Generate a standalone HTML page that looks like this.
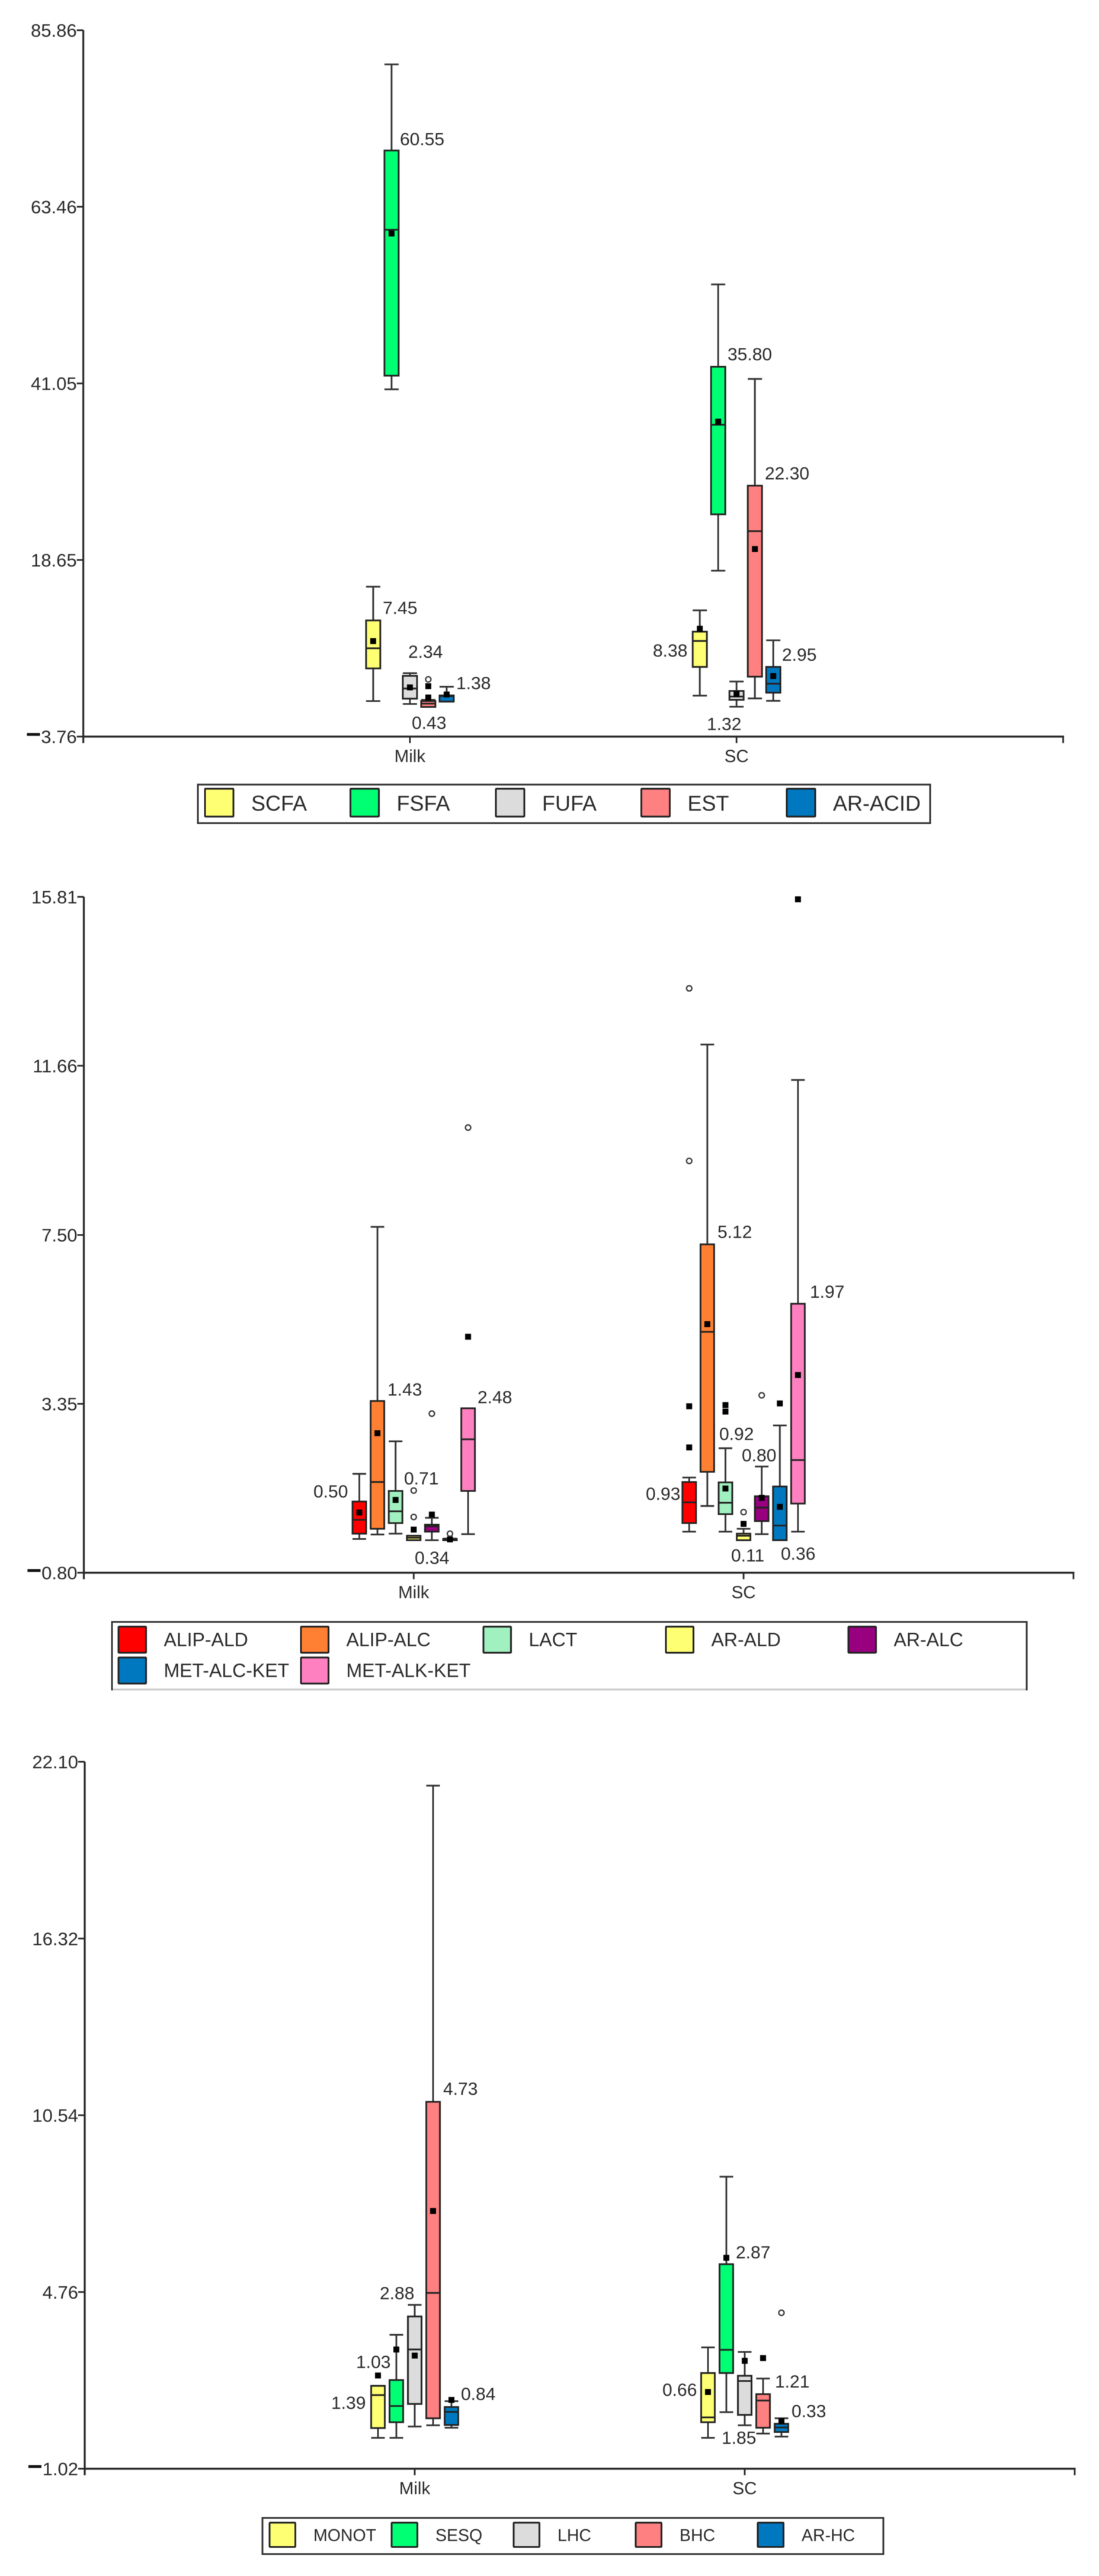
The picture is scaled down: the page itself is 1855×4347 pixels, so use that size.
<!DOCTYPE html>
<html lang="en">
<head>
<meta charset="utf-8">
<title>Box plots of volatile compound classes in Milk and SC</title>
<style>
html,body{margin:0;padding:0;background:#fff;}
svg{display:block;filter:blur(0.6px);}
text{font-family:"Liberation Sans",sans-serif;fill:#2a2a2a;}
.val{font-size:30px;}
</style>
</head>
<body>
<svg id="figure" xmlns="http://www.w3.org/2000/svg" width="1855" height="4347" viewBox="0 0 1855 4347">
<rect x="0" y="0" width="1855" height="4347" fill="#ffffff"/>
<g id="chart1"></g>
<g id="chart2"></g>
<g id="chart3"></g>
<g class="val">
<text x="675" y="245">60.55</text>
<text x="646" y="1036">7.45</text>
<text x="689" y="1110">2.34</text>
<text x="770" y="1163">1.38</text>
<text x="695" y="1230">0.43</text>
<text x="1102" y="1108">8.38</text>
<text x="1320" y="1115">2.95</text>
<text x="1193" y="1232">1.32</text>
<text x="1228" y="608">35.80</text>
<text x="1291" y="809">22.30</text>
</g>
<g class="val">
<text x="529" y="2527">0.50</text>
<text x="654" y="2355">1.43</text>
<text x="682" y="2505">0.71</text>
<text x="700" y="2639">0.34</text>
<text x="806" y="2368">2.48</text>
<text x="1090" y="2531">0.93</text>
<text x="1211" y="2089">5.12</text>
<text x="1214" y="2430">0.92</text>
<text x="1252" y="2466">0.80</text>
<text x="1234" y="2635">0.11</text>
<text x="1318" y="2632">0.36</text>
<text x="1367" y="2190">1.97</text>
</g>
<g class="val">
<text x="748" y="3535">4.73</text>
<text x="641" y="3880">2.88</text>
<text x="601" y="3996">1.03</text>
<text x="559" y="4065">1.39</text>
<text x="778" y="4050">0.84</text>
<text x="1242" y="3811">2.87</text>
<text x="1118" y="4043">0.66</text>
<text x="1308" y="4029">1.21</text>
<text x="1336" y="4079">0.33</text>
<text x="1218" y="4124">1.85</text>
</g>
</svg>
<script>
// ---------- Chart 1 data ----------
const chart1Categories = ['Milk', 'SC'];
const chart1Series = ['SCFA', 'FSFA', 'FUFA', 'EST', 'AR-ACID'];
const chart1TickLabels = [85.86, 63.46, 41.05, 18.65, -3.76];
const chart1WhiskerHigh = [[15.26, 81.52, 4.29, 0.90, 2.56], [12.26, 53.61, 3.23, 41.62, 8.45]];
const chart1Q3 = [[10.98, 70.60, 3.95, 0.75, 1.46], [9.55, 43.16, 2.03, 28.08, 5.08]];
const chart1Median = [[7.45, 60.55, 2.34, 0.43, 1.38], [8.38, 35.80, 1.32, 22.30, 2.95]];
const chart1Q1 = [[4.89, 42.03, 1.05, 0.00, 0.68], [5.08, 24.44, 0.90, 3.84, 1.81]];
const chart1WhiskerLow = [[0.75, 40.30, 0.38, 0.00, 0.68], [1.43, 17.29, 0.03, 1.08, 0.78]];
const chart1Mean = [[8.35, 60.07, 2.48, 2.63, 1.58], [9.93, 36.20, 1.65, 20.04, 3.91]];
const chart1OpenOutliers = [[[], [], [], [3.50], []], [[], [], [], [], []]];
const chart1FilledOutliers = [[[], [], [], [1.20], []], [[], [], [], [], []]];

// ---------- Chart 2 data ----------
const chart2Categories = ['Milk', 'SC'];
const chart2Series = ['ALIP-ALD', 'ALIP-ALC', 'LACT', 'AR-ALD', 'AR-ALC', 'MET-ALC-KET', 'MET-ALK-KET'];
const chart2TickLabels = [15.81, 11.66, 7.50, 3.35, -0.80];
const chart2WhiskerHigh = [[1.63, 7.70, 2.43, 0.11, 0.55, 0.04, 3.24], [1.54, 12.18, 2.26, 0.28, 1.81, 2.82, 11.31]];
const chart2Q3 = [[0.95, 3.42, 1.21, 0.11, 0.38, 0.03, 3.24], [1.43, 7.27, 1.42, 0.16, 1.08, 1.32, 5.81]];
const chart2Median = [[0.50, 1.43, 0.71, 0.06, 0.34, 0.02, 2.48], [0.93, 5.12, 0.92, 0.11, 0.80, 0.36, 1.97]];
const chart2Q1 = [[0.16, 0.28, 0.42, 0.00, 0.21, 0.00, 1.21], [0.42, 1.68, 0.64, 0.00, 0.47, 0.00, 0.90]];
const chart2WhiskerLow = [[0.03, 0.14, 0.16, 0.00, 0.00, 0.00, 0.15], [0.21, 0.84, 0.21, 0.00, 0.15, 0.00, 0.21]];
const chart2Mean = [[0.68, 2.63, 0.99, 0.26, 0.63, 0.02, 5.00], [2.28, 5.31, 1.27, 0.40, 1.04, 0.82, 4.06]];
const chart2OpenOutliers = [[[], [], [], [1.22, 0.57], [3.11], [0.16], [10.14]], [[13.56, 9.32], [], [], [0.69], [3.56], [], []]];
const chart2FilledOutliers = [[[], [], [], [], [], [], []], [[3.29], [], [3.32, 3.16], [], [], [3.36], [15.75]]];

// ---------- Chart 3 data ----------
const chart3Categories = ['Milk', 'SC'];
const chart3Series = ['MONOT', 'SESQ', 'LHC', 'BHC', 'AR-HC'];
const chart3TickLabels = [22.10, 16.32, 10.54, 4.76, -1.02];
const chart3WhiskerHigh = [[1.69, 3.36, 4.34, 21.32, 1.19], [2.95, 8.53, 2.80, 1.93, 0.63]];
const chart3Q3 = [[1.69, 1.88, 3.96, 10.98, 1.00], [2.11, 5.67, 2.02, 1.42, 0.45]];
const chart3Median = [[1.39, 1.03, 2.88, 4.73, 0.84], [0.66, 2.87, 1.85, 1.21, 0.33]];
const chart3Q1 = [[0.31, 0.50, 1.10, 0.63, 0.41], [0.50, 2.11, 0.74, 0.32, 0.18]];
const chart3WhiskerLow = [[-0.01, -0.01, 0.36, 0.40, 0.32], [-0.01, 0.83, 0.40, 0.13, 0.03]];
const chart3Mean = [[2.03, 2.88, 2.68, 7.41, 1.23], [1.49, 5.88, 2.51, 2.60, 0.54]];
const chart3OpenOutliers = [[[], [], [], [], []], [[], [], [], [], [4.08]]];
const chart3FilledOutliers = [[[], [], [], [], []], [[], [], [], [], []]];

const SVGNS = 'http://www.w3.org/2000/svg';
const INK = '#262626';

function make(tag, parent, props) {
  const el = document.createElementNS(SVGNS, tag);
  for (const k in props) el.setAttribute(k, props[k]);
  parent.appendChild(el);
  return el;
}
function slug(s) { return String(s).toLowerCase().replace(/[^a-z0-9]+/g, '-'); }

function drawChart(rootId, d, g) {
  const root = document.getElementById(rootId);
  const yMax = d.ticks[0];
  const yMin = d.ticks[d.ticks.length - 1];
  const yScale = v => g.top + (yMax - v) / (yMax - yMin) * (g.bottom - g.top);
  const bandX = i => g.left + (i + 1) * g.band;
  const seriesX = (c, s) => bandX(c) + (s - (d.series.length - 1) / 2) * g.step;
  const right = g.left + (d.categories.length + 1) * g.band;

  // axes
  const yAxis = make('line', root, {x1: g.left, x2: g.left, y1: yScale(yMax), y2: g.bottom + 11, stroke: INK, 'stroke-width': 3.2});
  
  
  const xAxis = make('line', root, {x1: g.left - 1.5, x2: right + 1.5, y1: g.bottom, y2: g.bottom, stroke: INK, 'stroke-width': 3.2});
  
  

  d.ticks.forEach(t => {
    const y = yScale(t);
    const tick = make('line', root, {x1: g.left - 11, x2: g.left, y1: y, y2: y, stroke: INK, 'stroke-width': 2.8});
    
    
    const label = make('text', root, {x: g.left - 11, y: y + 11, 'text-anchor': 'end', 'font-size': 31});
    
    
    if (t < 0) {
      const minus = make('tspan', label, {'font-size': 44, 'font-weight': 'bold', fill: '#111'});
      minus.textContent = '\u2212';
      const rest = make('tspan', label, {});
      rest.textContent = Math.abs(t).toFixed(2);
    } else {
      label.textContent = t.toFixed(2);
    }
  });

  d.categories.forEach((c, i) => {
    const tick = make('line', root, {x1: bandX(i), x2: bandX(i), y1: g.bottom, y2: g.bottom + 11, stroke: INK, 'stroke-width': 2.8});
    
    
    const label = make('text', root, {x: bandX(i), y: g.bottom + 43, 'text-anchor': 'middle', 'font-size': 29.5});
    
    
    label.textContent = c;
  });
  const endTick = make('line', root, {x1: right, x2: right, y1: g.bottom, y2: g.bottom + 11, stroke: INK, 'stroke-width': 2.8});
  
  

  // boxes
  d.categories.forEach((c, ci) => {
    d.series.forEach((s, si) => {
      const x = seriesX(ci, si);
      const hw = g.boxWidth / 2;
      const group = make('g', root, {});
      
      

      const stem = make('line', group, {x1: x, x2: x, y1: yScale(d.wHigh[ci][si]), y2: yScale(d.wLow[ci][si]), stroke: '#333', 'stroke-width': 2.9});
      
      
      const capTop = make('line', group, {x1: x - hw, x2: x + hw, y1: yScale(d.wHigh[ci][si]), y2: yScale(d.wHigh[ci][si]), stroke: '#333', 'stroke-width': 2.9});
      
      
      const capLow = make('line', group, {x1: x - hw, x2: x + hw, y1: yScale(d.wLow[ci][si]), y2: yScale(d.wLow[ci][si]), stroke: '#333', 'stroke-width': 2.9});
      
      

      const yQ3 = yScale(d.q3[ci][si]);
      const yQ1 = yScale(d.q1[ci][si]);
      const rect = make('rect', group, {x: x - hw, y: yQ3, width: g.boxWidth, height: Math.max(yQ1 - yQ3, 1), fill: d.colors[si], stroke: '#222', 'stroke-width': 2.9});
      
      
      const med = make('line', group, {x1: x - hw, x2: x + hw, y1: yScale(d.median[ci][si]), y2: yScale(d.median[ci][si]), stroke: '#222', 'stroke-width': 2.9});
      
      

      const mean = make('rect', group, {x: x - 5, y: yScale(d.mean[ci][si]) - 5, width: 10, height: 10, fill: '#000'});
      
      

      d.filled[ci][si].forEach(v => {
        const p = make('rect', group, {x: x - 5, y: yScale(v) - 5, width: 10, height: 10, fill: '#000'});
        
        
      });
      d.open[ci][si].forEach(v => {
        const p = make('circle', group, {cx: x, cy: yScale(v), r: 4.5, fill: '#fff', stroke: '#333', 'stroke-width': 2.2});
        
        
      });
    });
  });

  // legend
  const L = g.legend;
  const legend = make('g', root, {});
  
  
  const frame = make('rect', legend, {x: L.x, y: L.y, width: L.w, height: L.h, fill: '#fff', stroke: '#333', 'stroke-width': 3});
  
  
  if (L.fadedBottom) {
    const edge = make('line', legend, {x1: L.x + 1.5, x2: L.x + L.w - 1.5, y1: L.y + L.h, y2: L.y + L.h, stroke: '#c8c8c8', 'stroke-width': 3});
    
    
  }
  d.series.forEach((s, i) => {
    const col = i % L.cols;
    const row = Math.floor(i / L.cols);
    const entry = make('g', legend, {});
    
    
    const sw = make('rect', entry, {x: L.swX + col * L.colStep, y: L.swY + row * L.rowStep, width: L.swW, height: L.swH, rx: 1, fill: d.colors[i], stroke: '#222', 'stroke-width': 3});
    
    
    const tx = make('text', entry, {x: L.swX + col * L.colStep + L.textDx, y: L.baseY + row * L.rowStep, 'font-size': L.font});
    
    
    tx.textContent = s;
  });
}

drawChart('chart1', {
  categories: chart1Categories, series: chart1Series, ticks: chart1TickLabels,
  wHigh: chart1WhiskerHigh, q3: chart1Q3, median: chart1Median, q1: chart1Q1, wLow: chart1WhiskerLow,
  mean: chart1Mean, open: chart1OpenOutliers, filled: chart1FilledOutliers,
  colors: ['#FFFF73', '#00FF73', '#DCDCDC', '#FF8080', '#0078C0']
}, {
  left: 140.6, top: 51, bottom: 1243, band: 551.3, step: 31, boxWidth: 24,
  legend: {x: 334, y: 1324, w: 1236, h: 65, cols: 5, colStep: 245.5, rowStep: 0, swX: 346, swY: 1331, swW: 48, swH: 47, textDx: 78, baseY: 1368, font: 36}
});

drawChart('chart2', {
  categories: chart2Categories, series: chart2Series, ticks: chart2TickLabels,
  wHigh: chart2WhiskerHigh, q3: chart2Q3, median: chart2Median, q1: chart2Q1, wLow: chart2WhiskerLow,
  mean: chart2Mean, open: chart2OpenOutliers, filled: chart2FilledOutliers,
  colors: ['#FF0000', '#FF8033', '#A0F0C0', '#FFFF73', '#990080', '#0078C0', '#FF80C0']
}, {
  left: 141.5, top: 1513.4, bottom: 2654, band: 556.8, step: 30.6, boxWidth: 23,
  legend: {x: 189, y: 2737, w: 1544, h: 114, fadedBottom: true, cols: 5, colStep: 308, rowStep: 52, swX: 200, swY: 2745, swW: 46.5, swH: 44, textDx: 76.5, baseY: 2778, font: 32}
});

drawChart('chart3', {
  categories: chart3Categories, series: chart3Series, ticks: chart3TickLabels,
  wHigh: chart3WhiskerHigh, q3: chart3Q3, median: chart3Median, q1: chart3Q1, wLow: chart3WhiskerLow,
  mean: chart3Mean, open: chart3OpenOutliers, filled: chart3FilledOutliers,
  colors: ['#FFFF73', '#00FF73', '#DCDCDC', '#FF8080', '#0078C0']
}, {
  left: 143, top: 2973, bottom: 4166, band: 557, step: 31, boxWidth: 23,
  legend: {x: 443, y: 4249, w: 1048, h: 61, cols: 5, colStep: 206, rowStep: 0, swX: 455, swY: 4257, swW: 43.5, swH: 41, textDx: 74, baseY: 4288, font: 28.5}
});
</script>
</body>
</html>
